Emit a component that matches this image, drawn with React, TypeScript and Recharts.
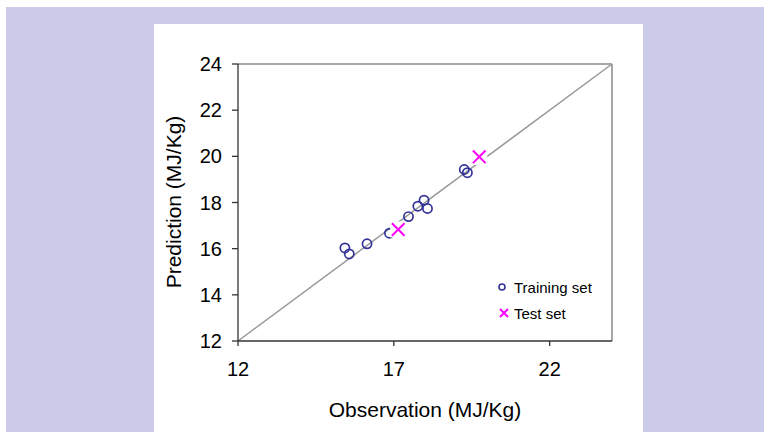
import React from 'react';
import { ScatterChart, Scatter, XAxis, YAxis, ReferenceLine, Legend } from 'recharts';

const trainObs = [15.43, 15.57, 16.14, 16.86, 17.47, 17.77, 17.97, 18.08, 19.26, 19.36];
const trainPred = [16.03, 15.77, 16.21, 16.67, 17.39, 17.84, 18.1, 17.74, 19.43, 19.29];
const testObs = [17.14, 19.74];
const testPred = [16.83, 19.98];
const xTicks = [12, 17, 22];
const yTicks = [12, 14, 16, 18, 20, 22, 24];
const seriesNames = ['Training set', 'Test set'];

const trainData = trainObs.map((x, i) => ({ x, y: trainPred[i] }));
const testData = testObs.map((x, i) => ({ x, y: testPred[i] }));

const NAVY = '#333399';
const MAGENTA = '#ff00ff';

const CircleShape = (p: any) => (
  <circle cx={p.cx} cy={p.cy} r={4.6} fill="none" stroke={NAVY} strokeWidth={1.7} />
);

const CrossShape = (p: any) => {
  const s = 6.3;
  return (
    <g>
      <rect x={p.cx - 8} y={p.cy - 8} width={16} height={16} fill="#ffffff" />
      <path
        d={`M${p.cx - s},${p.cy - s}L${p.cx + s},${p.cy + s}M${p.cx + s},${p.cy - s}L${p.cx - s},${p.cy + s}`}
        stroke={MAGENTA}
        strokeWidth={2}
      />
    </g>
  );
};

const LegendContent = (props: any) => {
  const payload = [...(props.payload || [])].sort(
    (a: any, b: any) => seriesNames.indexOf(a.value) - seriesNames.indexOf(b.value)
  );
  return (
    <div style={{ fontSize: 15, color: '#000' }}>
      {payload.map((e: any, i: number) => (
        <div key={i} style={{ display: 'flex', alignItems: 'center', height: 26, position: 'relative' }}>
          <svg width={16} height={16} style={{ display: 'block' }}>
            {e.value === seriesNames[0] ? (
              <circle cx={8} cy={8} r={3} fill="none" stroke={NAVY} strokeWidth={1.6} />
            ) : (
              <path d="M6,4L14,12M14,4L6,12" stroke={MAGENTA} strokeWidth={2} />
            )}
          </svg>
          <span style={{ position: 'absolute', left: 20, whiteSpace: 'nowrap' }}>{e.value}</span>
        </div>
      ))}
    </div>
  );
};

const YTitle = () => (
  <text x={181} y={202} transform="rotate(-90, 181, 202)" textAnchor="middle" fontSize={21} fill="#000">
    Prediction (MJ/Kg)
  </text>
);

export default function App() {
  return (
    <div
      style={{
        position: 'absolute',
        left: 0,
        top: 0,
        width: 764,
        height: 432,
        background: '#ffffff',
        fontFamily: '"Liberation Sans", Arial, sans-serif',
        overflow: 'hidden',
      }}
    >
      <div style={{ position: 'absolute', left: 6, top: 7, width: 758, height: 425, background: '#ccccea' }} />
      <div style={{ position: 'absolute', left: 154, top: 24, width: 489, height: 408, background: '#ffffff' }} />
      <div style={{ position: 'absolute', left: 0, top: 0 }}>
        <ScatterChart width={764} height={432} margin={{ top: 64, right: 152, bottom: 15, left: 178 }}>
          <XAxis
            type="number"
            dataKey="x"
            domain={[12, 24]}
            ticks={xTicks}
            interval={0}
            height={76}
            tickSize={5}
            tickMargin={16}
            tick={{ fontSize: 20, fill: '#000' }}
            axisLine={{ stroke: '#333', strokeWidth: 1.3 }}
            tickLine={{ stroke: '#333', strokeWidth: 1.3 }}
            allowDataOverflow
            label={{ value: 'Observation (MJ/Kg)', position: 'insideBottom', offset: 0, fontSize: 21, fill: '#000' }}
          />
          <YAxis
            type="number"
            dataKey="y"
            domain={[12, 24]}
            ticks={yTicks}
            interval={0}
            width={60}
            tickSize={6}
            tickMargin={10}
            tick={{ fontSize: 20, fill: '#000' }}
            axisLine={{ stroke: '#333', strokeWidth: 1.3 }}
            tickLine={{ stroke: '#333', strokeWidth: 1.3 }}
            allowDataOverflow
            label={<YTitle />}
          />
          <ReferenceLine y={24} stroke="#888" strokeWidth={1.5} />
          <ReferenceLine x={24} stroke="#888" strokeWidth={1.5} />
          <ReferenceLine
            segment={[{ x: 12, y: 12 }, { x: 24, y: 24 }]}
            stroke="#999"
            strokeWidth={1.5}
          />
          <Legend
            layout="vertical"
            align="center"
            verticalAlign="middle"
            wrapperStyle={{ left: 494, top: 274, width: 120 }}
            content={<LegendContent />}
          />
          <Scatter name={seriesNames[0]} data={trainData} shape={<CircleShape />} isAnimationActive={false} />
          <Scatter name={seriesNames[1]} data={testData} shape={<CrossShape />} isAnimationActive={false} />
        </ScatterChart>
      </div>
    </div>
  );
}
